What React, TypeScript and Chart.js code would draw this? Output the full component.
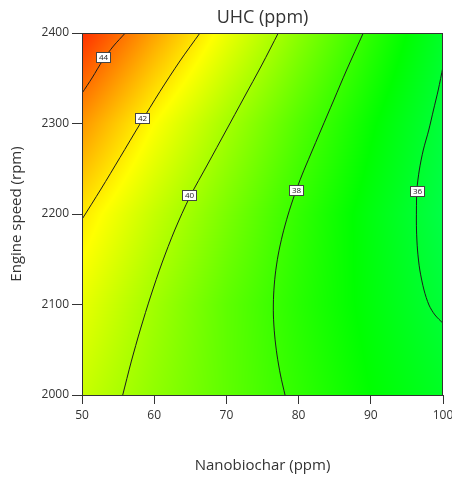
import React, { useEffect, useRef } from 'react';
import { Chart, registerables } from 'chart.js';

Chart.register(...registerables);

// ---- Data ----
const chartTitle = 'UHC (ppm)';
const xTitle = 'Nanobiochar (ppm)';
const yTitle = 'Engine speed (rpm)';

const nanobiochar = [50, 60, 70, 80, 90, 100];
const engineSpeed = [2000, 2100, 2200, 2300, 2400];

// UHC estimates on the grid (rows = engine speed, cols = nanobiochar)
const uhcAt2000 = [40.6, 39.6, 38.7, 37.85, 37.0, 36.3];
const uhcAt2100 = [41.2, 39.9, 38.7, 37.7, 36.8, 35.9];
const uhcAt2200 = [42.0, 40.55, 39.2, 37.9, 36.7, 35.6];
const uhcAt2300 = [43.4, 41.6, 40.0, 38.5, 37.1, 35.8];
const uhcAt2400 = [45.2, 43.2, 41.3, 39.5, 37.8, 36.2];

// Contour lines [nanobiochar, engine speed]
const contour44 = [[50, 2333.4], [51.39, 2350.3], [52.91, 2370.2], [54.36, 2385.6], [56.0, 2400]];
const contour42 = [[50, 2194.1], [52.63, 2227.6], [55.26, 2262.4], [58.03, 2299.4], [60.8, 2335.4], [63.57, 2369.1], [66.34, 2400]];
const contour40 = [
  [55.64, 2000], [56.81, 2036.5], [58.1, 2072.9], [59.52, 2109.4], [61.08, 2145.9], [62.85, 2182.3],
  [64.93, 2218.8], [67.42, 2255.2], [69.92, 2291.7], [72.41, 2328.2], [74.9, 2364.6], [77.19, 2400],
];
const contour38 = [
  [78.12, 2000], [77.49, 2022.1], [77.01, 2044.2], [76.68, 2066.3], [76.51, 2088.4], [76.54, 2110.5],
  [76.76, 2132.6], [77.17, 2154.7], [77.77, 2176.8], [78.53, 2198.9], [79.43, 2221], [80.47, 2243.1],
  [81.63, 2265.2], [83.1, 2292.8], [84.88, 2326], [86.65, 2359.1], [88.96, 2400],
];
const contour36 = [
  [100, 2079.2], [98.89, 2088.4], [98.06, 2099.4], [97.37, 2116], [96.79, 2138.1], [96.47, 2160.2],
  [96.33, 2182.3], [96.32, 2204.4], [96.38, 2226.5], [96.72, 2248.6], [97.27, 2270.7], [98.03, 2292.8],
  [98.68, 2314.9], [99.34, 2337], [100, 2362.8],
];

// Contour labels [value, nanobiochar, engine speed]
const contourLabels = [
  [44, 52.9, 2373],
  [42, 58.3, 2306],
  [40, 64.8, 2221],
  [38, 79.6, 2226],
  [36, 96.35, 2225],
];

const xTicks = [50, 60, 70, 80, 90, 100];
const yTicks = [2000, 2100, 2200, 2300, 2400];

// ---- Styling helpers ----
const FONT = "'Open Sans', 'Noto Sans', sans-serif";
const TEXT = '#333333';
const LINE = '#1c1c1c';

const uhcGrid = [uhcAt2000, uhcAt2100, uhcAt2200, uhcAt2300, uhcAt2400];

function uhcColor(v: number): [number, number, number] {
  if (v < 37) return [0, 255, Math.min(255, (37 - v) * 50)];
  if (v < 41.6) return [((v - 37) / 4.6) * 255, 255, 0];
  return [255, Math.max(0, 255 - ((v - 41.6) / 4.4) * 255), 0];
}

function locate(arr: number[], v: number): [number, number] {
  let i = 0;
  while (i < arr.length - 2 && v > arr[i + 1]) i++;
  const t = (v - arr[i]) / (arr[i + 1] - arr[i]);
  return [i, Math.max(0, Math.min(1, t))];
}

function uhcAt(x: number, y: number): number {
  const [i, tx] = locate(nanobiochar, x);
  const [j, ty] = locate(engineSpeed, y);
  const a = uhcGrid[j][i], b = uhcGrid[j][i + 1];
  const c = uhcGrid[j + 1][i], d = uhcGrid[j + 1][i + 1];
  return (a * (1 - tx) + b * tx) * (1 - ty) + (c * (1 - tx) + d * tx) * ty;
}

const heatmapPlugin = {
  id: 'heatmap',
  beforeDatasetsDraw(chart: any) {
    const { ctx, chartArea } = chart;
    const { left, top, right, bottom } = chartArea;
    const xs = chart.scales.x, ys = chart.scales.y;
    const w = Math.round(right - left), h = Math.round(bottom - top);
    const off = document.createElement('canvas');
    off.width = w; off.height = h;
    const octx = off.getContext('2d')!;
    const img = octx.createImageData(w, h);
    for (let py = 0; py < h; py++) {
      const yv = ys.getValueForPixel(top + py + 0.5);
      for (let px = 0; px < w; px++) {
        const xv = xs.getValueForPixel(left + px + 0.5);
        const [r, g, b] = uhcColor(uhcAt(xv, yv));
        const k = (py * w + px) * 4;
        img.data[k] = r; img.data[k + 1] = g; img.data[k + 2] = b; img.data[k + 3] = 255;
      }
    }
    octx.putImageData(img, 0, 0);
    ctx.save();
    ctx.drawImage(off, left, top, right - left, bottom - top);
    ctx.restore();
  },
  afterDatasetsDraw(chart: any) {
    const { ctx } = chart;
    const xs = chart.scales.x, ys = chart.scales.y;
    ctx.save();
    ctx.font = `8px ${FONT}`;
    ctx.textAlign = 'center';
    ctx.textBaseline = 'middle';
    contourLabels.forEach(([v, x, y]) => {
      const px = xs.getPixelForValue(x), py = ys.getPixelForValue(y);
      const bw = 14, bh = 10;
      ctx.fillStyle = '#ffffff';
      ctx.fillRect(Math.round(px - bw / 2) + 0.5, Math.round(py - bh / 2) + 0.5, bw, bh);
      ctx.strokeStyle = '#444444';
      ctx.lineWidth = 1;
      ctx.strokeRect(Math.round(px - bw / 2) + 0.5, Math.round(py - bh / 2) + 0.5, bw, bh);
      ctx.fillStyle = '#222222';
      ctx.fillText(String(v), Math.round(px) + 0.5, Math.round(py) + 1);
    });
    ctx.restore();
  },
  afterDraw(chart: any) {
    const { ctx, chartArea } = chart;
    const { left, top, right, bottom } = chartArea;
    ctx.save();
    ctx.strokeStyle = TEXT;
    ctx.lineWidth = 1;
    ctx.strokeRect(Math.round(left) + 0.5, Math.round(top) + 0.5, Math.round(right - left) - 1, Math.round(bottom - top));
    const cx = (left + right) / 2;
    ctx.fillStyle = TEXT;
    ctx.textAlign = 'center';
    ctx.textBaseline = 'middle';
    ctx.font = `18px ${FONT}`;
    ctx.fillText(chartTitle, cx, 18);
    ctx.font = `15px ${FONT}`;
    ctx.fillText(xTitle, cx, 466);
    ctx.translate(17, (top + bottom) / 2);
    ctx.rotate(-Math.PI / 2);
    ctx.fillText(yTitle, 0, 0);
    ctx.restore();
  },
};

function toPoints(arr: number[][]) {
  return arr.map(([x, y]) => ({ x, y }));
}

export default function App() {
  const ref = useRef<HTMLCanvasElement>(null);
  useEffect(() => {
    if (!ref.current) return;
    const lines = [contour44, contour42, contour40, contour38, contour36];
    const chart = new Chart(ref.current, {
      type: 'line',
      data: {
        datasets: lines.map((c, i) => ({
          label: `c${i}`,
          data: toPoints(c),
          borderColor: LINE,
          borderWidth: 1,
          pointRadius: 0,
          tension: 0.3,
          fill: false,
        })),
      },
      options: {
        responsive: false,
        animation: false,
        devicePixelRatio: 1,
        layout: { padding: { top: 33, right: 9, left: 0, bottom: 0 } },
        plugins: { legend: { display: false }, tooltip: { enabled: false }, title: { display: false } },
        scales: {
          x: {
            type: 'linear',
            position: 'bottom',
            min: 50,
            max: 100,
            afterBuildTicks: (s: any) => { s.ticks = xTicks.map((v) => ({ value: v })); },
            ticks: { color: TEXT, font: { size: 12, family: FONT }, padding: 4, maxRotation: 0, callback: (v: any) => String(v) },
            grid: { drawOnChartArea: false, drawTicks: true, tickLength: 9, color: TEXT },
            border: { display: true, color: TEXT },
            afterFit: (s: any) => { s.height = 82; s.paddingLeft = 0; s.paddingRight = 0; },
          },
          y: {
            type: 'linear',
            position: 'left',
            min: 2000,
            max: 2400,
            afterBuildTicks: (s: any) => { s.ticks = yTicks.map((v) => ({ value: v })); },
            ticks: { color: TEXT, font: { size: 12, family: FONT }, padding: 3, callback: (v: any) => String(v) },
            grid: { drawOnChartArea: false, drawTicks: true, tickLength: 10, color: TEXT },
            border: { display: true, color: TEXT },
            afterFit: (s: any) => { s.width = 82; s.paddingTop = 0; s.paddingBottom = 0; },
          },
        },
      },
      plugins: [heatmapPlugin],
    } as any);
    return () => chart.destroy();
  }, []);
  return (
    <canvas
      ref={ref}
      width={452}
      height={477}
      style={{ position: 'fixed', left: 0, top: 0, width: 452, height: 477, display: 'block' }}
    />
  );
}
